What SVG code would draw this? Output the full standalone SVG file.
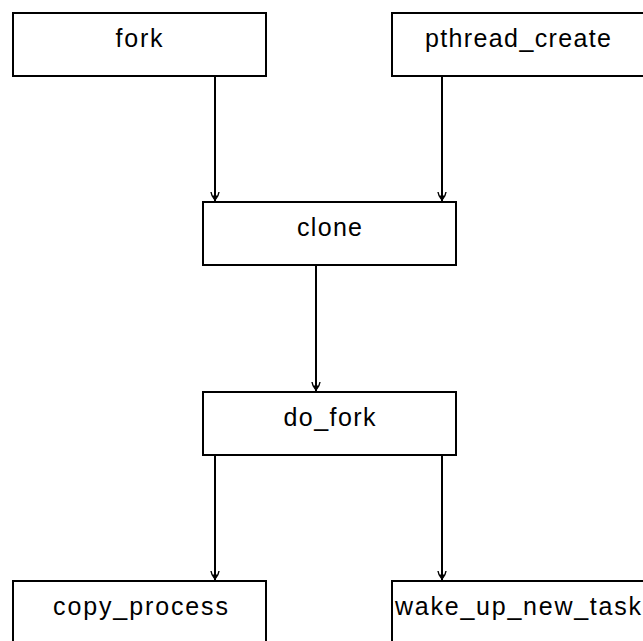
<svg xmlns="http://www.w3.org/2000/svg" width="643" height="641" viewBox="0 0 643 641">
<style>
.box{fill:#fff;stroke:#000;stroke-width:2}
.lbl{font-family:"Liberation Sans",Arial,sans-serif;font-size:25px;fill:#000;text-anchor:middle}
.edge{stroke:#000;stroke-width:2;fill:none}
</style>
<defs>
<marker id="arr" markerUnits="userSpaceOnUse" markerWidth="14" markerHeight="14" viewBox="-12 -7 14 14" refX="0" refY="0" orient="auto">
<g transform="rotate(-90)">
<path d="M-4,-9 Q-3.5,-4.5 0,-1 Q3.5,-4.5 4,-9" fill="none" stroke="#000" stroke-width="1.4"/>
<path d="M-3,-5.5 L3,-5.5 L0,0 Z" fill="#000"/>
</g>
</marker>
</defs>
<rect width="643" height="641" fill="#fff"/>
<g id="connectors">
<line class="edge" x1="215" y1="76" x2="215" y2="201" marker-end="url(#arr)"/>
<line class="edge" x1="442" y1="76" x2="442" y2="201" marker-end="url(#arr)"/>
<line class="edge" x1="316" y1="265" x2="316" y2="391" marker-end="url(#arr)"/>
<line class="edge" x1="215" y1="455" x2="215" y2="580" marker-end="url(#arr)"/>
<line class="edge" x1="442" y1="455" x2="442" y2="580" marker-end="url(#arr)"/>
</g>
<g id="fork"><rect class="box" x="13" y="13" width="253" height="63"/><text class="lbl" x="139" y="47" textLength="47">fork</text></g>
<g id="pthread_create"><rect class="box" x="392" y="13" width="253" height="63"/><text class="lbl" x="518" y="47" textLength="186">pthread_create</text></g>
<g id="clone"><rect class="box" x="203" y="202" width="253" height="63"/><text class="lbl" x="329.5" y="236" textLength="65">clone</text></g>
<g id="do_fork"><rect class="box" x="203" y="392" width="253" height="63"/><text class="lbl" x="329.5" y="426" textLength="92">do_fork</text></g>
<g id="copy_process"><rect class="box" x="13" y="581" width="253" height="63"/><text class="lbl" x="140.5" y="615" textLength="175">copy_process</text></g>
<g id="wake_up_new_task"><rect class="box" x="392" y="581" width="253" height="63"/><text class="lbl" x="518" y="615" textLength="246">wake_up_new_task</text></g>
</svg>
